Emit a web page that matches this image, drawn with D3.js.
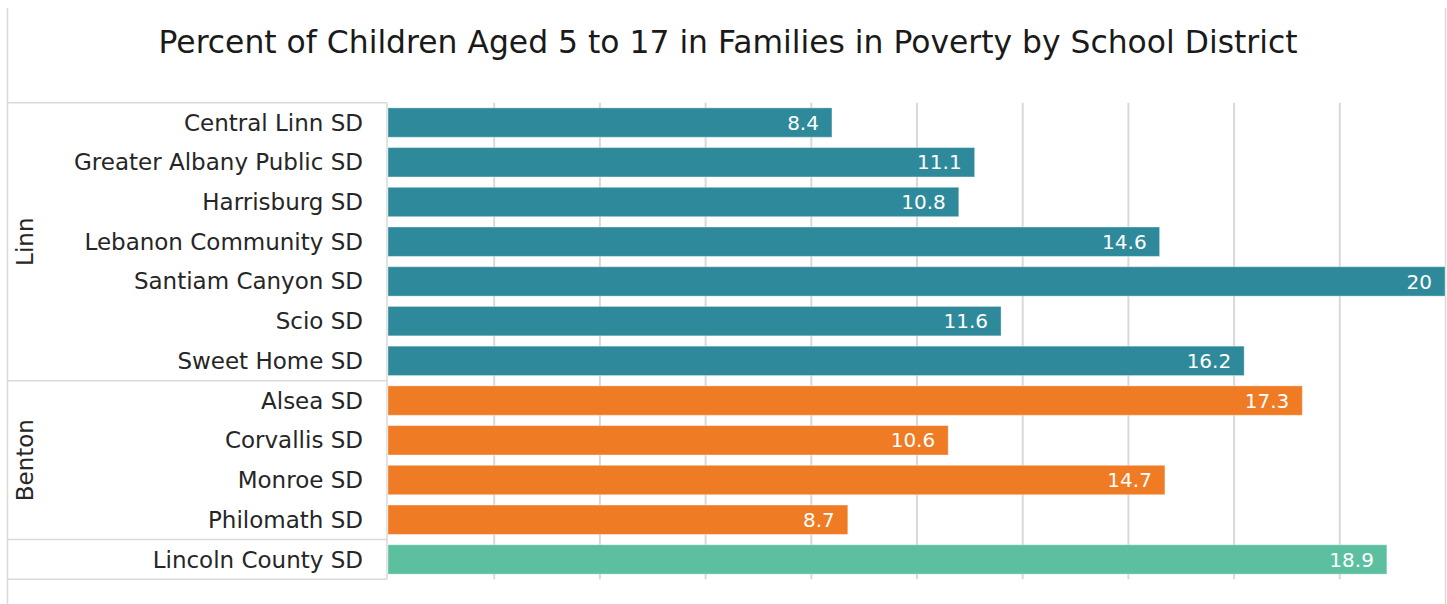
<!DOCTYPE html>
<html>
<head>
<meta charset="utf-8">
<script src="https://cdn.jsdelivr.net/npm/d3@7"></script>
<style>
  html, body { margin: 0; padding: 0; background: #fff; }
  svg { display: block; }
  text { font-family: "DejaVu Sans", "Noto Sans", sans-serif; }
</style>
</head>
<body>
<svg id="chart" width="1447" height="604"></svg>
<script>
const title = "Percent of Children Aged 5 to 17 in Families in Poverty by School District";
const districts = ["Central Linn SD", "Greater Albany Public SD", "Harrisburg SD", "Lebanon Community SD",
  "Santiam Canyon SD", "Scio SD", "Sweet Home SD", "Alsea SD", "Corvallis SD", "Monroe SD",
  "Philomath SD", "Lincoln County SD"];
const counties = ["Linn", "Linn", "Linn", "Linn", "Linn", "Linn", "Linn", "Benton", "Benton", "Benton", "Benton", ""];
const values = [8.4, 11.1, 10.8, 14.6, 20, 11.6, 16.2, 17.3, 10.6, 14.7, 8.7, 18.9];
const groupNames = ["Linn", "Benton", ""];
const groupColors = ["#2E8A9B", "#EF7B24", "#5CBF9F"];
const xTicks = [2, 4, 6, 8, 10, 12, 14, 16, 18];

const svg = d3.select("#chart");
const pLeft = 388, pRight = 1445, pTop = 102.7, pBottom = 579.3;
const x = d3.scaleLinear().domain([0, 20]).range([pLeft, pRight]);
const y = d3.scaleBand().domain(districts).range([pTop, pBottom]).paddingInner(0.26).paddingOuter(0.13);
const color = d3.scaleOrdinal().domain(groupNames).range(groupColors);
const grid = "#D9D9D9";

// outer chart border (left and right sides)
svg.append("line").attr("x1", 7.5).attr("x2", 7.5).attr("y1", 8).attr("y2", 604).attr("stroke", grid).attr("stroke-width", 1.5);
svg.append("line").attr("x1", 1445.5).attr("x2", 1445.5).attr("y1", 8).attr("y2", 604).attr("stroke", grid).attr("stroke-width", 1.5);

// title
svg.append("text").attr("x", 728).attr("y", 53).attr("text-anchor", "middle")
  .attr("font-size", 31.4).attr("fill", "#1a1a1a").text(title);

// gridlines
const xAxis = d3.axisBottom(x).tickValues(xTicks).tickSize(-(pBottom - pTop)).tickFormat("");
const gx = svg.append("g").attr("transform", `translate(0,${pBottom})`).call(xAxis);
gx.select(".domain").remove();
gx.selectAll(".tick line").attr("stroke", grid).attr("stroke-width", 2);

// category axis box with group separators
const rowStep = (pBottom - pTop) / districts.length;
const groupRanges = [];
groupNames.forEach(g => {
  const idx = counties.map((c, i) => c === g ? i : -1).filter(i => i >= 0);
  groupRanges.push({ name: g, start: d3.min(idx), end: d3.max(idx) + 1 });
});
const boxLines = svg.append("g").attr("stroke", "#D9D9D9").attr("stroke-width", 1.5);
groupRanges.forEach(r => {
  const yy = pTop + r.start * rowStep;
  boxLines.append("line").attr("x1", 7).attr("x2", pLeft - 1).attr("y1", yy).attr("y2", yy);
});
boxLines.append("line").attr("x1", 7).attr("x2", pLeft - 1).attr("y1", pBottom).attr("y2", pBottom);
boxLines.append("line").attr("x1", pLeft - 1).attr("x2", pLeft - 1).attr("y1", pTop).attr("y2", pBottom);

// group labels
groupRanges.filter(r => r.name).forEach(r => {
  const cy = pTop + (r.start + r.end) / 2 * rowStep;
  svg.append("text").attr("transform", `translate(33,${cy}) rotate(-90)`)
    .attr("text-anchor", "middle").attr("font-size", 23).attr("fill", "#262626").text(r.name);
});

// category labels
const yAxis = d3.axisLeft(y).tickSize(0).tickPadding(0);
const gy = svg.append("g").attr("transform", `translate(363,0)`).call(yAxis);
gy.select(".domain").remove();
gy.selectAll(".tick text").attr("font-size", 23).attr("fill", "#262626")
  .attr("font-family", '"DejaVu Sans", "Noto Sans", sans-serif').attr("dy", "0.35em");

// bars
const data = districts.map((d, i) => ({ name: d, county: counties[i], value: values[i] }));
svg.append("g").selectAll("rect").data(data).join("rect")
  .attr("x", x(0)).attr("y", d => y(d.name))
  .attr("width", d => x(d.value) - x(0)).attr("height", y.bandwidth())
  .attr("fill", d => color(d.county))
  .attr("stroke", "rgba(255,255,255,0.35)").attr("stroke-width", 1);

// value labels
svg.append("g").selectAll("text").data(data).join("text")
  .attr("x", d => x(d.value) - 13).attr("y", d => y(d.name) + y.bandwidth() / 2)
  .attr("dy", "0.36em").attr("text-anchor", "end")
  .attr("font-size", 20).attr("fill", "#ffffff").text(d => d.value);
</script>
</body>
</html>
